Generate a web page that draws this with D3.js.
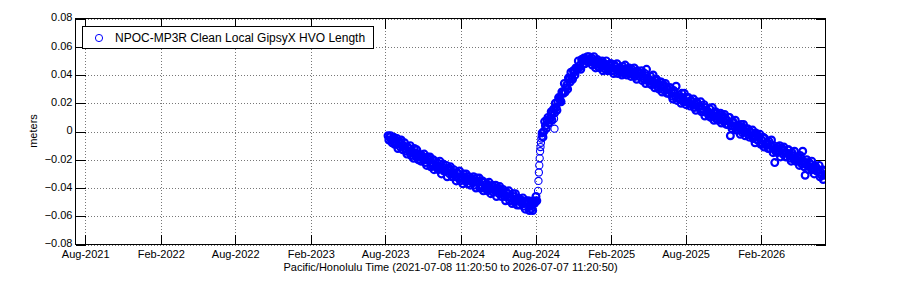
<!DOCTYPE html>
<html>
<head>
<meta charset="utf-8">
<script src="https://cdn.jsdelivr.net/npm/d3@7"></script>
<style>
  body { margin: 0; background: #fff; }
  svg { display: block; font-family: "Liberation Sans", Arial, Helvetica, sans-serif; }
  .grid line { stroke: #777; stroke-dasharray: 1,2; shape-rendering: crispEdges; }
  .grid path { display: none; }
  .axis path { display: none; }
  .axis line { stroke: #000; shape-rendering: crispEdges; }
  .axis text { font-size: 11px; fill: #000; }
</style>
</head>
<body>
<svg id="chart" width="900" height="300"></svg>
<script>
// time window of the plot
const domainStart = "2021-07-08 11:20:50";
const domainEnd = "2026-07-07 11:20:50";

const xTickLabels = ["Aug-2021", "Feb-2022", "Aug-2022", "Feb-2023", "Aug-2023",
  "Feb-2024", "Aug-2024", "Feb-2025", "Aug-2025", "Feb-2026"];
const yTickValues = [-0.08, -0.06, -0.04, -0.02, 0, 0.02, 0.04, 0.06, 0.08];

const seriesName = "NPOC-MP3R Clean Local GipsyX HVO Length";
const xTitle = "Pacific/Honolulu Time (2021-07-08 11:20:50 to 2026-07-07 11:20:50)";
const yTitle = "meters";

// values in millimetres, one sample every 2 days unless noted
const stepDays = 2;
const declineStart = "2023-08-08";
const declineValues = [
  -3, -6, -4, -3, -6, -8, -5, -4, -9, -7,
  -9, -5, -12, -8, -7, -11, -6, -10, -13, -10,
  -8, -12, -14, -16, -11, -12, -14, -10, -17, -15,
  -15, -19, -12, -15, -18, -13, -18, -20, -16, -18,
  -21, -17, -18, -20, -16, -22, -20, -24, -18, -19,
  -20, -18, -25, -22, -24, -20, -27, -21, -25, -25,
  -22, -27, -25, -21, -26, -30, -25, -23, -28, -27,
  -28, -24, -32, -27, -26, -30, -25, -29, -32, -29,
  -27, -30, -32, -35, -29, -30, -33, -28, -35, -33,
  -32, -37, -30, -32, -35, -30, -35, -37, -32, -34,
  -38, -33, -34, -36, -32, -38, -36, -40, -33, -35,
  -36, -33, -40, -38, -40, -35, -42, -36, -40, -40,
  -37, -42, -39, -36, -41, -44, -39, -38, -43, -41,
  -42, -38, -46, -41, -40, -44, -39, -43, -46, -42,
  -41, -44, -46, -49, -43, -44, -46, -42, -49, -47,
  -47, -51, -44, -46, -50, -44, -49, -52, -47, -49,
  -52, -48, -49, -51, -47, -53, -51, -55, -49, -50,
  -51, -49, -56, -53, -55, -50, -56, -49, -51, -50,
  -46, -49
];

// daily samples during the fast jump
const jumpStart = "2024-08-07";
const jumpValues = [-42, -35, -29, -24, -19, -14, -11, -8, -5, -3];

const riseStart = "2024-08-17";
const riseValues = [
  -1, -4, 0, 7, 4, 2, 8, 10, 6, 9,
  9, 14, 8, 14, 16, 13, 20, 17, 15, 21,
  24, 23, 22, 21, 28, 28, 27, 34, 28, 31,
  33, 30, 38, 37, 35, 42, 38, 37, 43, 42,
  40, 45, 45, 44, 50, 45, 47, 44, 51, 51,
  51, 52, 48, 51, 50, 53, 49, 53, 51, 50
];

const fallStart = "2024-12-15";
const fallValues = [
  52, 47, 50, 53, 48, 45, 50, 51, 46, 48, 45, 49,
  46, 50, 43, 48, 48, 44, 50, 46, 43, 47, 44, 48,
  48, 45, 43, 41, 47, 46, 44, 48, 41, 43, 45, 42,
  44, 40, 46, 44, 41, 47, 42, 40, 44, 42, 45, 41,
  39, 44, 42, 40, 45, 39, 41, 37, 43, 42, 39, 41,
  41, 43, 36, 39, 37, 41, 34, 44, 37, 36, 37, 34,
  39, 33, 36, 40, 34, 31, 36, 37, 32, 34, 30, 35,
  32, 35, 28, 32, 33, 29, 34, 30, 27, 30, 27, 31,
  31, 28, 25, 23, 29, 27, 25, 32, 22, 24, 26, 23,
  24, 20, 27, 24, 21, 27, 21, 19, 24, 21, 24, 20,
  18, 22, 21, 19, 23, 17, 19, 15, 21, 20, 17, 18,
  18, 21, 14, 16, 14, 19, 11, 17, 14, 13, 14, 11,
  16, 10, 13, 17, 11, 8, 13, 14, 9, 11, 8, 12,
  9, 13, 6, 10, 11, 7, 12, 8, 5, 8, 5, 10,
  10, -3, 4, 2, 7, 6, 4, 8, 1, 3, 4, 1,
  3, -2, 5, 3, -1, 5, 0, -3, 2, 0, 2, -2,
  -4, 0, -1, -3, 1, -5, -3, -8, -1, -2, -6, -4,
  -4, -2, -9, -6, -9, -4, -11, -5, -9, -9, -8, -12,
  -7, -12, -10, -6, -11, -15, -10, -22, -14, -12, -15, -11,
  -14, -10, -18, -13, -12, -16, -11, -15, -18, -15, -18, -13,
  -13, -17, -19, -21, -15, -17, -19, -14, -21, -20, -18, -21,
  -19, -24, -17, -19, -23, -14, -22, -25, -31, -22, -20, -24,
  -27, -22, -23, -26, -21, -27, -26, -30, -24, -25, -28, -27,
  -27, -24, -32, -29, -31, -27, -34, -28, -31
];

const outlierDates = ["2024-09-15", "2024-09-16"];
const outlierValues = [9, 2];

const parseFull = d3.timeParse("%Y-%m-%d %H:%M:%S");
const parseDay = d3.timeParse("%Y-%m-%d");
const parseTick = d3.timeParse("%b-%Y");

// dense stretches get a heavier ring so the band reads solid like the daily original
function samples(start, step, values, dense) {
  const t0 = parseDay(start);
  return values.map((v, i) => ({ date: d3.timeDay.offset(t0, i * step), value: v / 1000, dense }));
}

const points = [].concat(
  samples(declineStart, stepDays, declineValues, true),
  samples(jumpStart, 1, jumpValues, false),
  samples(riseStart, stepDays, riseValues, true),
  samples(fallStart, stepDays, fallValues, true),
  outlierDates.map((d, i) => ({ date: parseDay(d), value: outlierValues[i] / 1000, dense: false }))
);

const plotLeft = 75.5, plotRight = 825.5, plotTop = 18.5, plotBottom = 244.5;

const svg = d3.select('#chart');

const x = d3.scaleTime()
  .domain([parseFull(domainStart), parseFull(domainEnd)])
  .range([plotLeft, plotRight]);

const y = d3.scaleLinear()
  .domain([-0.08, 0.08])
  .range([plotBottom, plotTop]);

const xTicks = xTickLabels.map(parseTick);
const fmtTick = d3.timeFormat("%b-%Y");
const fmtY = v => v === 0 ? "0" : d3.format(".2f")(v);

// grid
svg.append('g')
  .attr('class', 'grid')
  .attr('transform', `translate(0,${plotBottom})`)
  .call(d3.axisBottom(x).tickValues(xTicks).tickSize(-(plotBottom - plotTop)).tickFormat(''));

svg.append('g')
  .attr('class', 'grid')
  .attr('transform', `translate(${plotLeft},0)`)
  .call(d3.axisLeft(y).tickValues(yTickValues).tickSize(-(plotRight - plotLeft)).tickFormat(''));

// data
svg.append('clipPath')
  .attr('id', 'plot-clip')
  .append('rect')
  .attr('x', plotLeft).attr('y', plotTop)
  .attr('width', plotRight - plotLeft).attr('height', plotBottom - plotTop);

svg.append('g')
  .attr('clip-path', 'url(#plot-clip)')
  .selectAll('circle')
  .data(points)
  .enter().append('circle')
  .attr('cx', d => x(d.date))
  .attr('cy', d => y(d.value))
  .attr('r', d => d.dense ? 3.4 : 3.6)
  .attr('fill', 'none')
  .attr('stroke', '#0000ff')
  .attr('stroke-width', d => d.dense ? 2.2 : 1.1);

// axes with inward ticks on all four sides
svg.append('g')
  .attr('class', 'axis')
  .attr('transform', `translate(0,${plotBottom})`)
  .call(d3.axisBottom(x).tickValues(xTicks).tickSizeInner(-10).tickSizeOuter(0)
    .tickPadding(6).tickFormat(fmtTick));

svg.append('g')
  .attr('class', 'axis')
  .attr('transform', `translate(0,${plotTop})`)
  .call(d3.axisTop(x).tickValues(xTicks).tickSizeInner(-10).tickSizeOuter(0).tickFormat(''));

svg.append('g')
  .attr('class', 'axis')
  .attr('transform', `translate(${plotLeft},0)`)
  .call(d3.axisLeft(y).tickValues(yTickValues).tickSizeInner(-10).tickSizeOuter(0)
    .tickPadding(3).tickFormat(fmtY))
  .selectAll('text')
  .attr('dy', '0.22em');

svg.append('g')
  .attr('class', 'axis')
  .attr('transform', `translate(${plotRight},0)`)
  .call(d3.axisRight(y).tickValues(yTickValues).tickSizeInner(-10).tickSizeOuter(0).tickFormat(''));

svg.append('rect')
  .attr('x', plotLeft).attr('y', plotTop)
  .attr('width', plotRight - plotLeft).attr('height', plotBottom - plotTop)
  .attr('fill', 'none')
  .attr('stroke', '#000')
  .attr('shape-rendering', 'crispEdges');

// titles
svg.append('text')
  .attr('x', (plotLeft + plotRight) / 2)
  .attr('y', 271)
  .attr('text-anchor', 'middle')
  .attr('font-size', 11)
  .text(xTitle);

svg.append('text')
  .attr('transform', 'translate(37,131) rotate(-90)')
  .attr('text-anchor', 'middle')
  .attr('font-size', 11)
  .text(yTitle);

// legend
const legend = svg.append('g');
legend.append('rect')
  .attr('x', 82.5).attr('y', 26.5)
  .attr('width', 291).attr('height', 22)
  .attr('fill', '#fff')
  .attr('stroke', '#000')
  .attr('shape-rendering', 'crispEdges');
legend.append('circle')
  .attr('cx', 99).attr('cy', 38)
  .attr('r', 3.6)
  .attr('fill', 'none')
  .attr('stroke', '#0000ff');
legend.append('text')
  .attr('x', 115).attr('y', 42)
  .attr('font-size', 12)
  .text(seriesName);
</script>
</body>
</html>
